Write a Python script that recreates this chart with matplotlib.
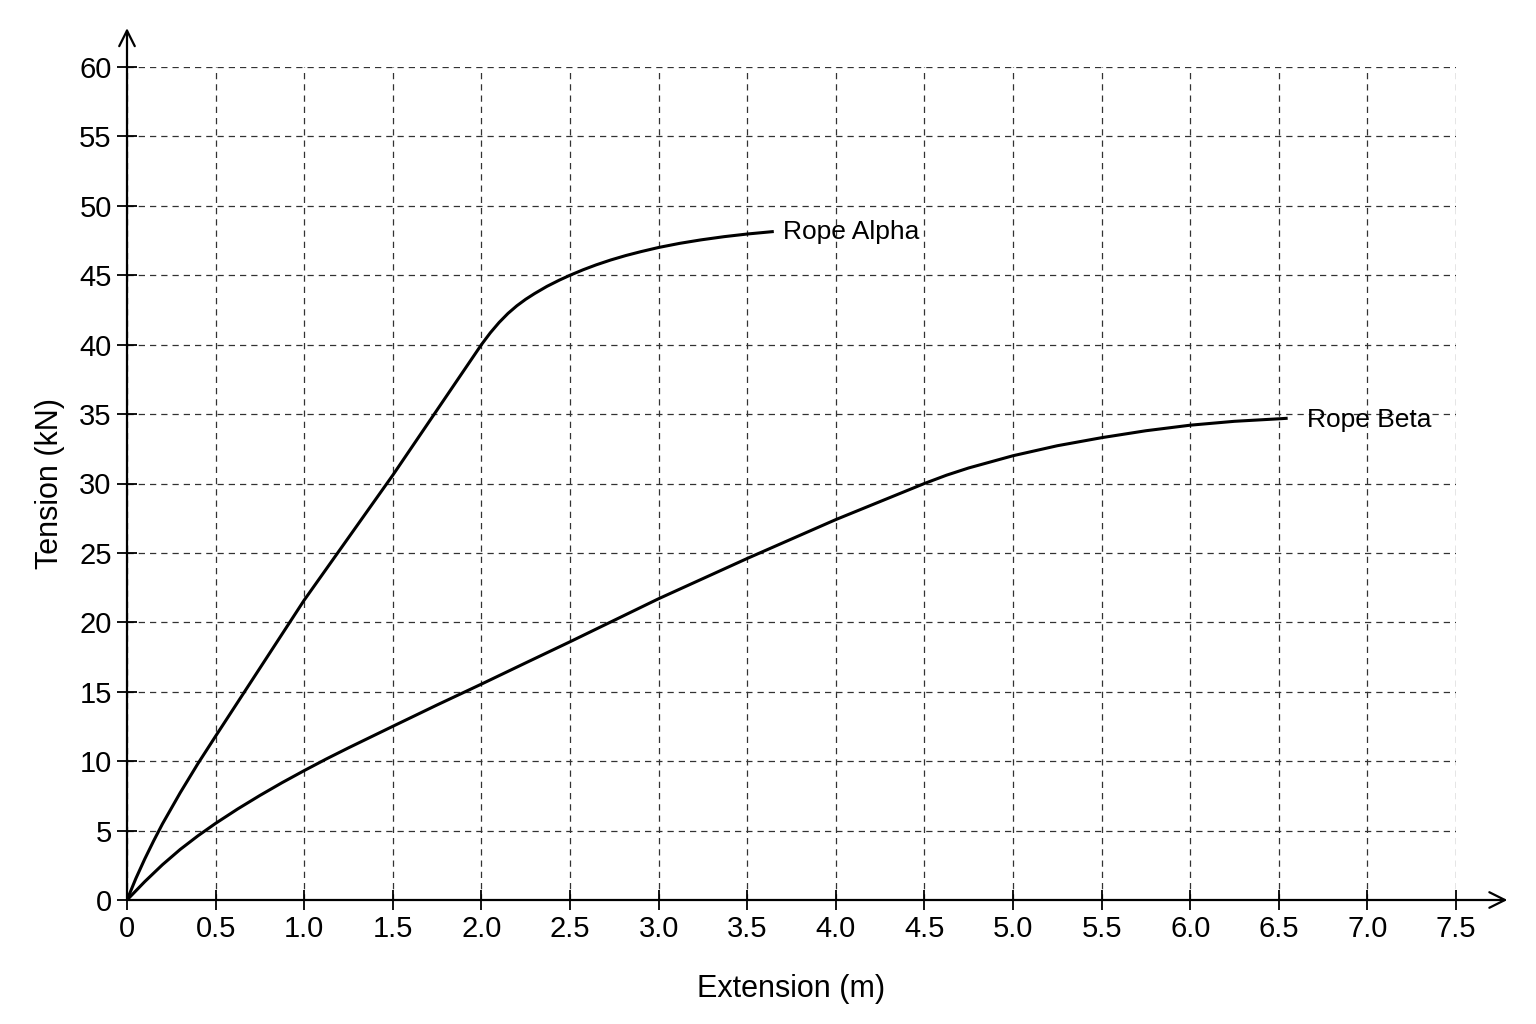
import matplotlib.pyplot as plt
import numpy as np

# Kraft-Dehnungs-Kurven
alpha_ext = [0, 0.05, 0.1, 0.15, 0.2, 0.3, 0.4, 0.5, 0.75, 1.0, 1.25, 1.5, 1.75, 2.0,
             2.05, 2.1, 2.15, 2.2, 2.25, 2.3, 2.37, 2.44, 2.5, 2.575, 2.648, 2.73,
             2.815, 2.9, 3.0, 3.12, 3.24, 3.37, 3.5, 3.65]
alpha_tension = [0, 1.55, 2.95, 4.25, 5.48, 7.72, 9.82, 11.8, 16.7, 21.6, 26.1, 30.6,
                 35.3, 40.0, 40.85, 41.6, 42.25, 42.8, 43.27, 43.68, 44.2, 44.65, 45.0,
                 45.4, 45.75, 46.1, 46.42, 46.7, 47.0, 47.3, 47.55, 47.78, 47.97, 48.15]

beta_ext = [0, 0.1, 0.2, 0.3, 0.4, 0.5, 0.625, 0.75, 0.875, 1.0, 1.125, 1.25, 1.5,
            1.75, 2.0, 2.25, 2.5, 2.75, 3.0, 3.25, 3.5, 3.75, 4.0, 4.25, 4.5, 4.625,
            4.75, 5.0, 5.25, 5.5, 5.75, 6.0, 6.25, 6.5, 6.55]
beta_tension = [0, 1.32, 2.54, 3.64, 4.62, 5.52, 6.56, 7.53, 8.45, 9.32, 10.16, 10.96,
                12.51, 14.05, 15.55, 17.08, 18.6, 20.15, 21.7, 23.15, 24.6, 26.0, 27.4,
                28.7, 30.0, 30.6, 31.12, 32.0, 32.72, 33.3, 33.8, 34.2, 34.48, 34.66,
                34.7]

x_ticks = [0, 0.5, 1.0, 1.5, 2.0, 2.5, 3.0, 3.5, 4.0, 4.5, 5.0, 5.5, 6.0, 6.5, 7.0, 7.5]
x_labels = ['0', '0.5', '1.0', '1.5', '2.0', '2.5', '3.0', '3.5', '4.0', '4.5', '5.0',
            '5.5', '6.0', '6.5', '7.0', '7.5']
y_ticks = [0, 5, 10, 15, 20, 25, 30, 35, 40, 45, 50, 55, 60]

plt.rcParams['font.family'] = ['Liberation Sans', 'DejaVu Sans']

fig = plt.figure(figsize=(15.36, 10.24), dpi=100)
ax = fig.add_axes([127 / 1536, 124 / 1024, 1329 / 1536, 833 / 1024])

ax.plot(alpha_ext, alpha_tension, color='black', lw=2.2, solid_capstyle='butt',
        solid_joinstyle='round')
ax.plot(beta_ext, beta_tension, color='black', lw=2.2, solid_capstyle='butt',
        solid_joinstyle='round')

ax.text(3.7, 48.1, 'Rope Alpha', fontsize=19, va='center', ha='left')
ax.text(6.66, 34.6, 'Rope Beta', fontsize=19, va='center', ha='left')

ax.set_xlim(0, 7.5)
ax.set_ylim(0, 60)
ax.set_xticks(x_ticks)
ax.set_xticklabels(x_labels)
ax.set_yticks(y_ticks)
ax.tick_params(direction='inout', length=14, width=1.3, labelsize=21, pad=4)

ax.grid(True, ls=(0, (5, 4)), color='#333333', lw=0.9)
ax.set_axisbelow(True)

for s in ax.spines.values():
    s.set_visible(False)

# Achsen mit Pfeilspitzen
ax.annotate('', xy=(7.79, 0), xytext=(0, 0), annotation_clip=False,
            arrowprops=dict(arrowstyle='->', lw=1.6, color='black', mutation_scale=28,
                            shrinkA=0, shrinkB=0))
ax.annotate('', xy=(0, 62.8), xytext=(0, 0), annotation_clip=False,
            arrowprops=dict(arrowstyle='->', lw=1.6, color='black', mutation_scale=28,
                            shrinkA=0, shrinkB=0))

ax.set_xlabel('Extension (m)', fontsize=22, labelpad=22)
ax.set_ylabel('Tension (kN)', fontsize=22, labelpad=10)

fig.savefig('out.png', dpi=100)
